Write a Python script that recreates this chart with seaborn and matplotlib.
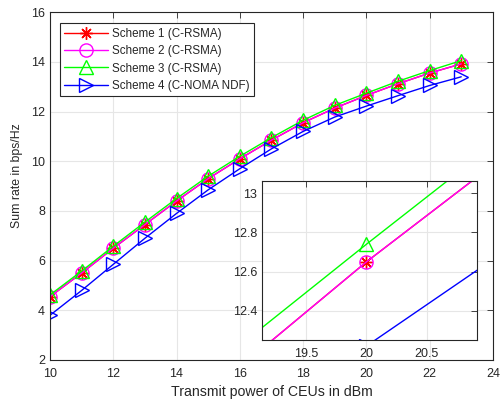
import matplotlib
matplotlib.use("Agg")
import matplotlib.pyplot as plt
import seaborn as sns
import numpy as np

sns.set_style("white")
plt.rcParams['font.family'] = ['Liberation Sans', 'DejaVu Sans']

power = [10, 11, 12, 13, 14, 15, 16, 17, 18, 19, 20, 21, 22, 23]
scheme1 = [4.55, 5.50, 6.50, 7.45, 8.40, 9.30, 10.10, 10.85, 11.55, 12.14, 12.65, 13.12, 13.55, 13.92]
scheme2 = [4.55, 5.50, 6.50, 7.45, 8.40, 9.30, 10.10, 10.85, 11.55, 12.14, 12.65, 13.12, 13.55, 13.92]
scheme3 = [4.62, 5.58, 6.58, 7.55, 8.50, 9.40, 10.20, 10.95, 11.65, 12.25, 12.74, 13.22, 13.65, 14.05]
scheme4 = [3.80, 4.80, 5.85, 6.90, 7.90, 8.85, 9.70, 10.50, 11.20, 11.78, 12.22, 12.64, 13.05, 13.40]
labels = ["Scheme 1 (C-RSMA)", "Scheme 2 (C-RSMA)", "Scheme 3 (C-RSMA)", "Scheme 4 (C-NOMA NDF)"]
colors = ["#ff0000", "#ff00ff", "#00ff00", "#0000ff"]
markers = [(8, 2, 0), "o", "^", ">"]
msizes = [9, 9.5, 10.5, 10.5]
series = [scheme1, scheme2, scheme3, scheme4]

fig = plt.figure(figsize=(5.01, 4.03), dpi=100)
ax = fig.add_axes([0.0998, 0.1067, 0.884, 0.863])

axcol = "#262626"

def style(a, fs):
    for s in a.spines.values():
        s.set_color(axcol)
        s.set_linewidth(0.8)
    a.tick_params(direction="in", length=4, width=0.6, colors=axcol, labelsize=fs,
                  top=True, right=True, labelcolor="#262626")
    a.tick_params(axis="x", pad=6)
    a.tick_params(axis="y", pad=3.5)
    a.grid(True, color="#e6e6e6", linewidth=0.8)
    a.set_axisbelow(True)

for y, lab, c, m, ms in zip(series, labels, colors, markers, msizes):
    sns.lineplot(x=power, y=y, ax=ax, color=c, marker=m, markersize=ms,
                 markerfacecolor="none", markeredgecolor=c, markeredgewidth=1.0,
                 linewidth=1.0, label=lab)

ax.set_xlim(10, 24)
ax.set_ylim(2, 16)
ax.set_xticks(np.arange(10, 25, 2))
ax.set_yticks(np.arange(2, 17, 2))
style(ax, 9)
ax.set_xlabel("Transmit power of CEUs in dBm", fontsize=10.2, color="#262626")
ax.set_ylabel("Sum rate in bps/Hz", fontsize=8.8, color="#262626")
ax.xaxis.set_label_coords(0.5, -0.072)
ax.yaxis.set_label_coords(-0.061, 0.53)

leg = ax.legend(loc="upper left", bbox_to_anchor=(0.022, 0.968), fontsize=8.4,
                frameon=True, fancybox=False, edgecolor=axcol, framealpha=1,
                handlelength=3.7, borderpad=0.4, labelspacing=0.45, handletextpad=0.35,
                borderaxespad=0)
leg.get_frame().set_linewidth(0.8)

ins = fig.add_axes([0.523, 0.156, 0.429, 0.395])
for y, lab, c, m, ms in zip(series, labels, colors, markers, msizes):
    sns.lineplot(x=power, y=y, ax=ins, color=c, marker=m, markersize=ms,
                 markerfacecolor="none", markeredgecolor=c, markeredgewidth=1.0,
                 linewidth=1.0, legend=False)
ins.set_facecolor("white")
ins.set_xlim(19.13, 20.92)
ins.set_ylim(12.25, 13.063)
ins.set_xticks([19.5, 20, 20.5])
ins.set_xticklabels(["19.5", "20", "20.5"])
ins.set_yticks([12.4, 12.6, 12.8, 13.0])
ins.set_yticklabels(["12.4", "12.6", "12.8", "13"])
style(ins, 9)
ins.set_xlabel("")
ins.set_ylabel("")

fig.savefig("out.png", dpi=100)
